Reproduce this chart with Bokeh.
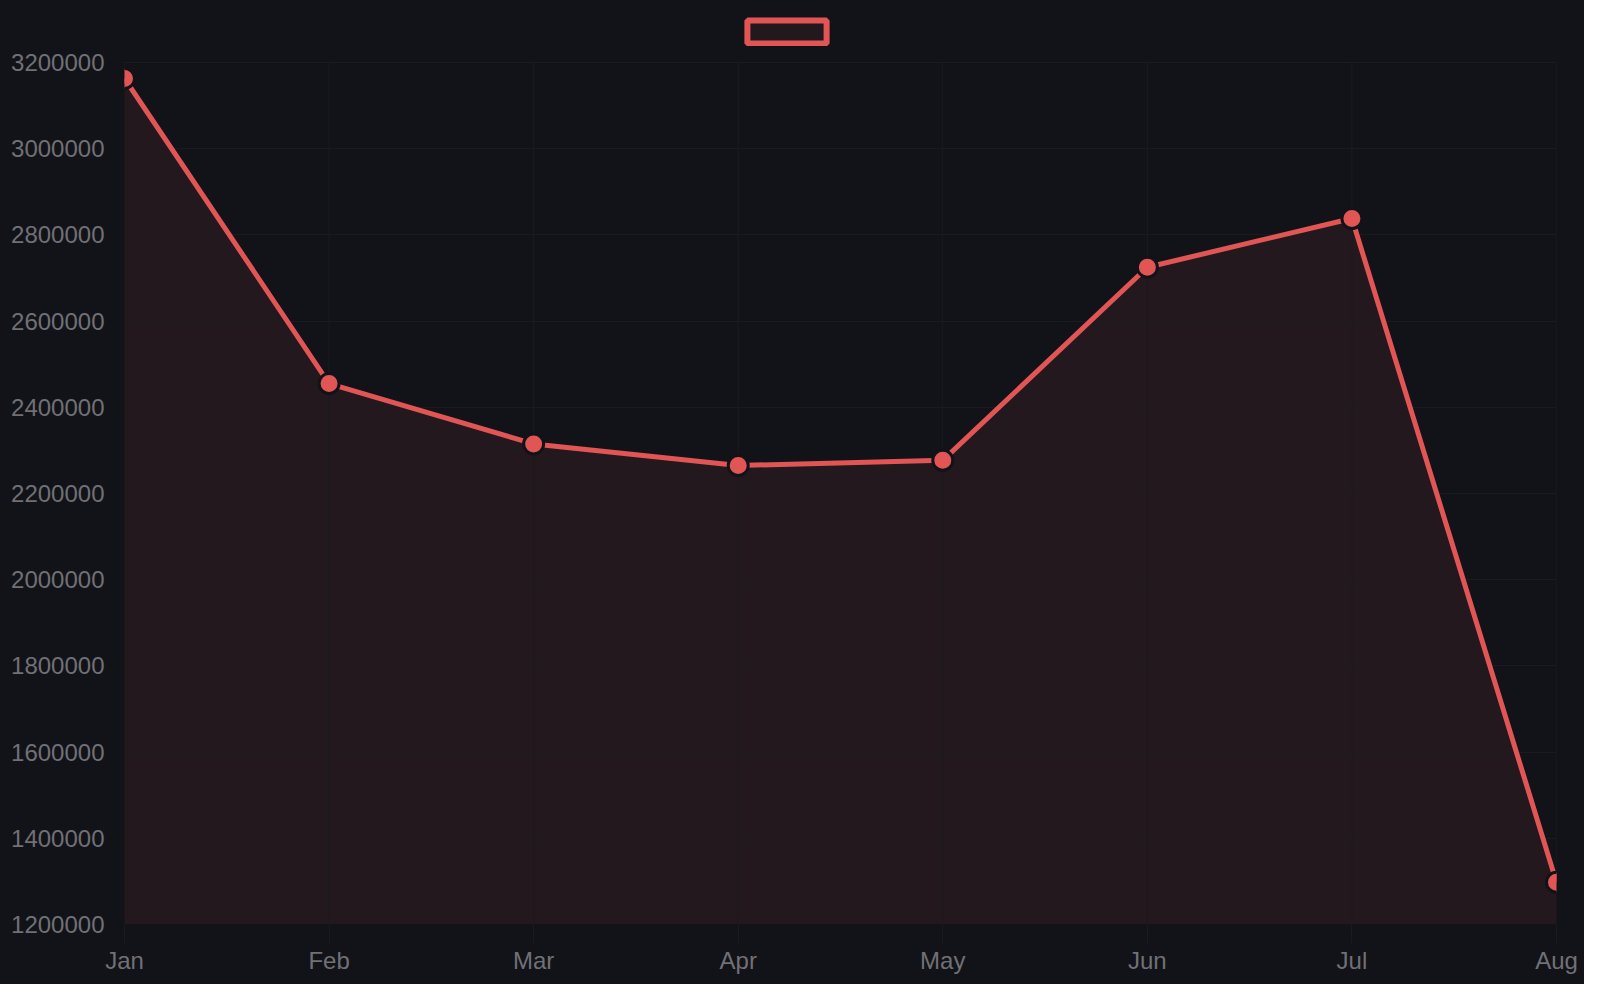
from bokeh.plotting import figure
from bokeh.models import Range1d, FixedTicker, Legend, LegendItem, BasicTickFormatter, ColumnDataSource
from bokeh.embed import file_html
from bokeh.resources import INLINE

months = ["Jan", "Feb", "Mar", "Apr", "May", "Jun", "Jul", "Aug"]
values = [3163000, 2455000, 2315000, 2265000, 2277000, 2725000, 2838000, 1298000]
y_ticks = [1200000, 1400000, 1600000, 1800000, 2000000, 2200000, 2400000, 2600000, 2800000, 3000000, 3200000]
series_label = ""

BG = "#121318"
RED = "#e15554"
GRID = "#1c1a1f"
LABEL = "#707075"
FONT = "Liberation Sans"

W, H = 1584, 984
TOP_PAD = 62      # space above the top tick (holds the legend)
BOTTOM = 60
y_min, y_max = y_ticks[0], y_ticks[-1]
inner_h = H - TOP_PAD - BOTTOM
y_end = y_max + (y_max - y_min) * TOP_PAD / inner_h

x = list(range(len(months)))
src = ColumnDataSource(dict(x=x, y=values, base=[y_min] * len(x)))
grid_src = ColumnDataSource(dict(x=x, y0=[y_min] * len(x), y1=[y_max] * len(x)))
nan = float("nan")

p = figure(width=W, height=H, output_backend="svg", toolbar_location=None,
           x_range=Range1d(0, len(months) - 1), y_range=Range1d(y_min, y_end),
           min_border_left=124, min_border_right=28, min_border_top=0, min_border_bottom=BOTTOM)
p.styles = {"background-color": BG}
p.background_fill_color = None
p.border_fill_color = None
p.outline_line_color = None

area = p.varea(x="x", y1="base", y2="y", source=src, fill_color=RED, fill_alpha=0.08)
area.level = "image"
vgrid = p.segment(x0="x", x1="x", y0="y0", y1="y1", source=grid_src, line_color=GRID, line_width=1)
vgrid.level = "underlay"
p.line(x="x", y="y", source=src, line_color=RED, line_width=5)
p.scatter(x="x", y="y", source=src, size=20, fill_color=RED, line_color=BG, line_width=3)

swatch = p.quad(left=[nan], right=[nan], top=[nan], bottom=[nan], fill_color=RED,
                fill_alpha=0.08, line_color=RED, line_width=6)
legend = Legend(items=[LegendItem(label=series_label, renderers=[swatch])], orientation="horizontal",
                location=(613, inner_h + TOP_PAD - 46), glyph_width=99, glyph_height=29,
                label_standoff=0, label_width=0, label_height=0, padding=0, margin=0, spacing=0,
                background_fill_alpha=0, border_line_alpha=0, label_text_font_size="1px")
p.add_layout(legend, "center")

p.xaxis.ticker = FixedTicker(ticks=x)
p.xaxis.major_label_overrides = {i: m for i, m in enumerate(months)}
p.yaxis.ticker = FixedTicker(ticks=y_ticks)
p.yaxis.formatter = BasicTickFormatter(use_scientific=False)

for ax in (p.xaxis, p.yaxis):
    ax.axis_line_color = None
    ax.minor_tick_line_color = None
    ax.major_label_text_color = LABEL
    ax.major_label_text_font = FONT
    ax.major_label_text_font_size = "24px"
    ax.major_tick_in = 0

p.xaxis.major_tick_out = 19
p.xaxis.major_tick_line_color = GRID
p.xaxis.major_label_standoff = 3
p.yaxis.major_tick_out = 0
p.yaxis.major_tick_line_color = None
p.yaxis.major_label_standoff = 20

p.xgrid.visible = False
p.ygrid.grid_line_color = GRID
p.ygrid.grid_line_width = 1

open("out.html", "w").write(file_html(p, INLINE))
